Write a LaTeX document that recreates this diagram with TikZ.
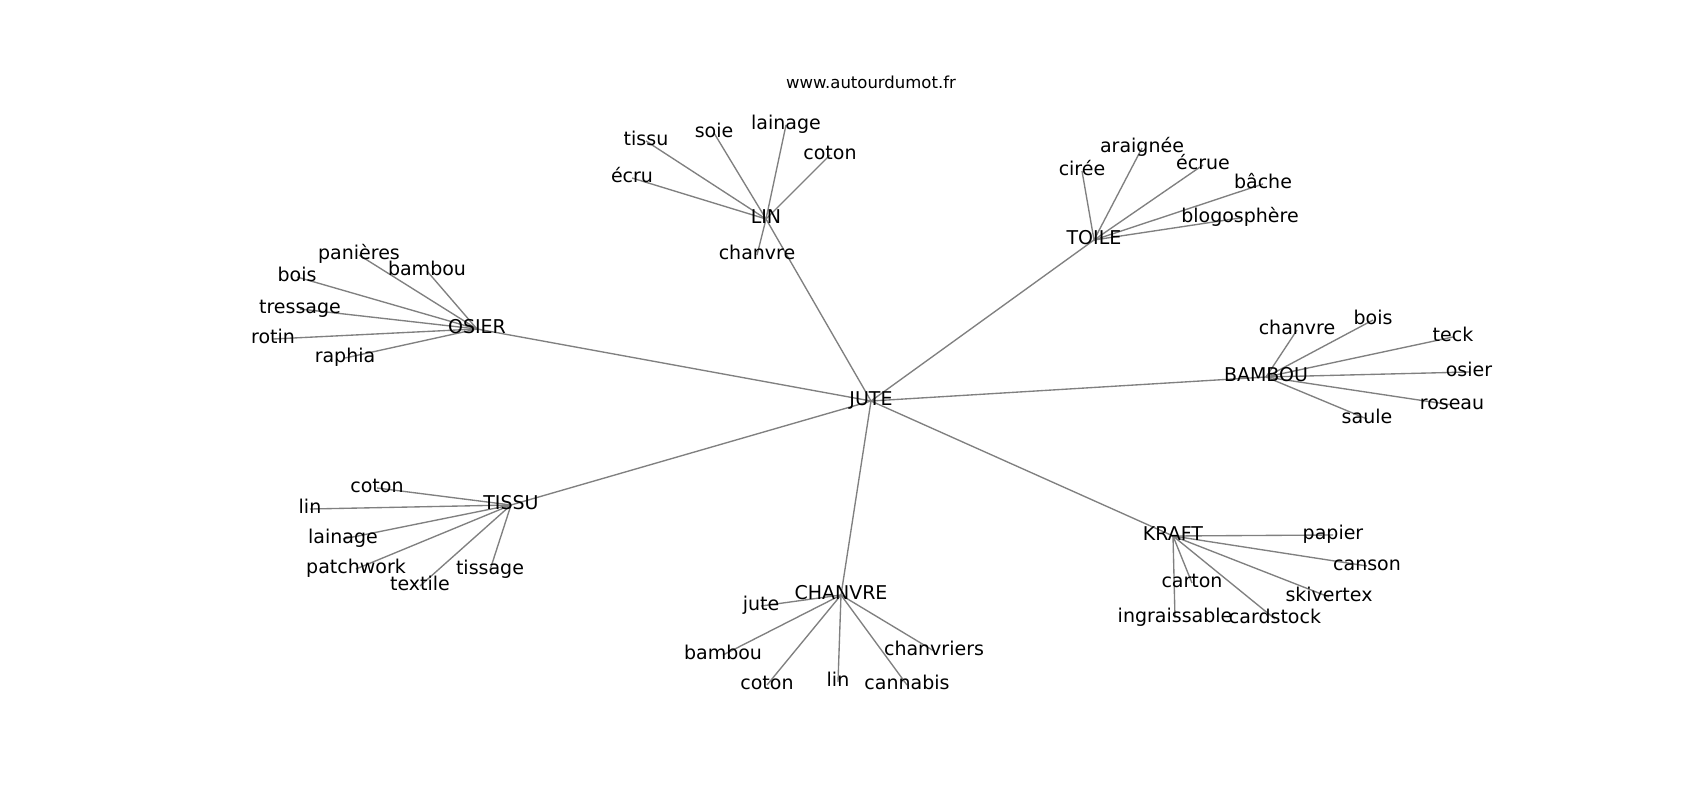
\documentclass[tikz,border=0pt]{standalone}
\usepackage{fontspec}
\setmainfont{DejaVu Sans}
\usetikzlibrary{backgrounds}

\begin{document}
\begin{tikzpicture}[x=1pt, y=-1pt]

% Define colors
\definecolor{linkgray}{RGB}{128, 128, 128}

\tikzset{
    word/.style={font=\fontsize{19}{21}\selectfont, inner sep=0pt, text height=1.05em, text depth=0.07em},
    link/.style={draw=linkgray, line width=1.35pt}
}

% Canvas
\useasboundingbox (0,-2) rectangle (1700,798);

% Title
\node[font=\fontsize{16.5}{18}\selectfont, inner sep=0pt, text height=0.95em, text depth=0.05em] (title) at (871,82) {www.autourdumot.fr};

% Hubs
\node[word] (jute) at (871,399) {JUTE};
\node[word] (osier) at (477,327) {OSIER};
\node[word] (lin) at (766,217) {LIN};
\node[word] (toile) at (1094,238) {TOILE};
\node[word] (bambou) at (1266,375) {BAMBOU};
\node[word] (tissu) at (511,503) {TISSU};
\node[word] (chanvre) at (841,593) {CHANVRE};
\node[word] (kraft) at (1173,534) {KRAFT};

% OSIER leaves
\foreach \n/\x/\y/\t in {os-panieres/359/253/panières, os-bambou/427/269/bambou,
    os-bois/297/275/bois, os-tressage/300/307/tressage, os-rotin/273/337/rotin,
    os-raphia/345/356/raphia}
    \node[word] (\n) at (\x,\y) {\t};

% LIN leaves
\foreach \n/\x/\y/\t in {li-tissu/646/139/tissu, li-soie/714/131/soie,
    li-lainage/786/123/lainage, li-coton/830/153/coton, li-ecru/632/176/écru,
    li-chanvre/757/253/chanvre}
    \node[word] (\n) at (\x,\y) {\t};

% TOILE leaves
\foreach \n/\x/\y/\t in {to-araignee/1142/146/araignée, to-ciree/1082/169/cirée,
    to-ecrue/1203/163/écrue, to-bache/1263/182/bâche, to-blogo/1240/216/blogosphère}
    \node[word] (\n) at (\x,\y) {\t};

% BAMBOU leaves
\foreach \n/\x/\y/\t in {ba-chanvre/1297/328/chanvre, ba-bois/1373/318/bois,
    ba-teck/1453/335/teck, ba-osier/1469/370/osier, ba-roseau/1452/403/roseau,
    ba-saule/1367/417/saule}
    \node[word] (\n) at (\x,\y) {\t};

% TISSU leaves
\foreach \n/\x/\y/\t in {ti-coton/377/486/coton, ti-lin/310/507/lin,
    ti-lainage/343/537/lainage, ti-patchwork/356/567/patchwork,
    ti-textile/420/584/textile, ti-tissage/490/568/tissage}
    \node[word] (\n) at (\x,\y) {\t};

% CHANVRE leaves
\foreach \n/\x/\y/\t in {ch-jute/761/604/jute, ch-bambou/723/653/bambou,
    ch-coton/767/683/coton, ch-lin/838/680/lin, ch-cannabis/907/683/cannabis,
    ch-chanvriers/934/649/chanvriers}
    \node[word] (\n) at (\x,\y) {\t};

% KRAFT leaves
\foreach \n/\x/\y/\t in {kr-papier/1333/533/papier, kr-canson/1367/564/canson,
    kr-carton/1192/581/carton, kr-skivertex/1329/595/skivertex,
    kr-ingraissable/1175/616/ingraissable, kr-cardstock/1275/617/cardstock}
    \node[word] (\n) at (\x,\y) {\t};

% Links, under the words
\begin{scope}[on background layer]
    \fill[white] (0,-2) rectangle (1700,798);
    \foreach \h in {osier, lin, toile, bambou, tissu, chanvre, kraft}
        \draw[link] (jute.center) -- (\h.center);
    \foreach \n in {panieres, bambou, bois, tressage, rotin, raphia}
        \draw[link] (osier.center) -- (os-\n.center);
    \foreach \n in {tissu, soie, lainage, coton, ecru, chanvre}
        \draw[link] (lin.center) -- (li-\n.center);
    \foreach \n in {araignee, ciree, ecrue, bache, blogo}
        \draw[link] (toile.center) -- (to-\n.center);
    \foreach \n in {chanvre, bois, teck, osier, roseau, saule}
        \draw[link] (bambou.center) -- (ba-\n.center);
    \foreach \n in {coton, lin, lainage, patchwork, textile, tissage}
        \draw[link] (tissu.center) -- (ti-\n.center);
    \foreach \n in {jute, bambou, coton, lin, cannabis, chanvriers}
        \draw[link] (chanvre.center) -- (ch-\n.center);
    \foreach \n in {papier, canson, carton, skivertex, ingraissable, cardstock}
        \draw[link] (kraft.center) -- (kr-\n.center);
\end{scope}

\end{tikzpicture}
\end{document}
